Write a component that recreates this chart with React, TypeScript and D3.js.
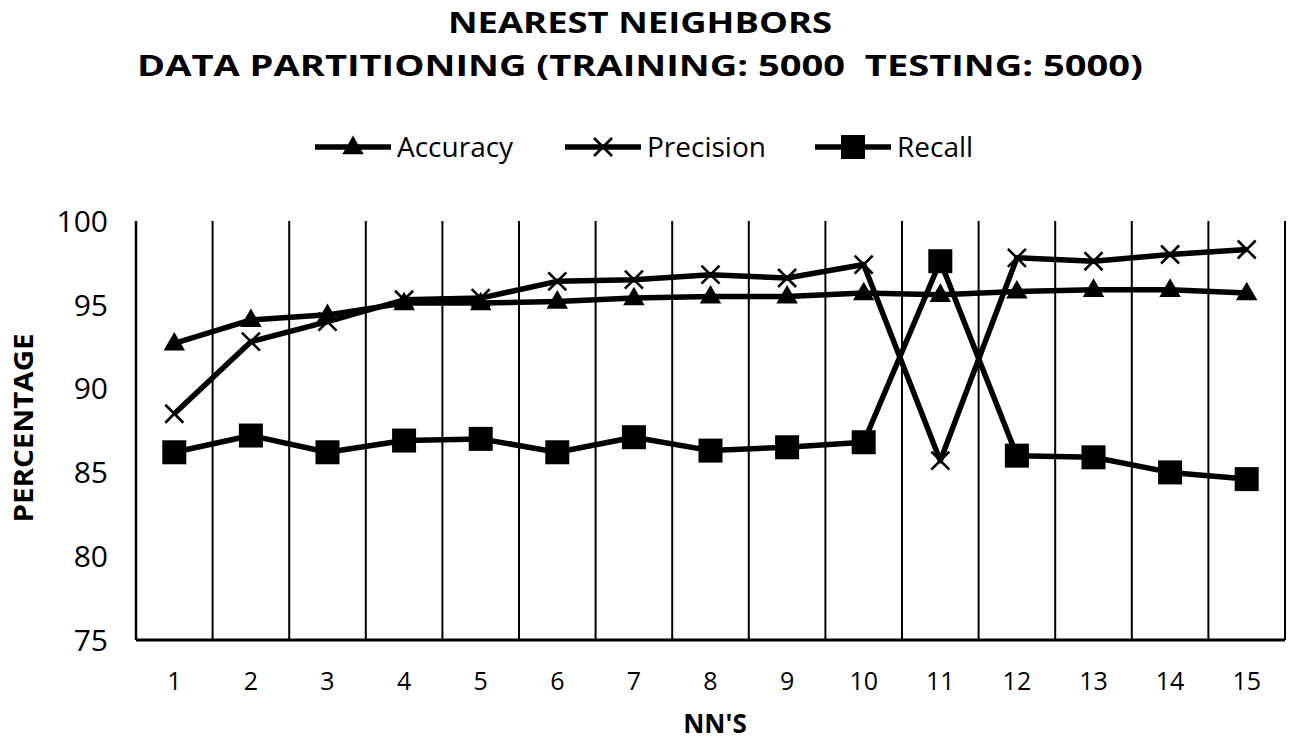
import React from 'react';
import * as d3 from 'd3';

const categories = ['1', '2', '3', '4', '5', '6', '7', '8', '9', '10', '11', '12', '13', '14', '15'];
const accuracy = [92.7, 94.1, 94.4, 95.1, 95.1, 95.2, 95.4, 95.5, 95.5, 95.7, 95.6, 95.8, 95.9, 95.9, 95.7];
const precision = [88.5, 92.8, 94.0, 95.3, 95.4, 96.4, 96.5, 96.8, 96.6, 97.4, 85.7, 97.8, 97.6, 98.0, 98.3];
const recall = [86.2, 87.2, 86.2, 86.9, 87.0, 86.2, 87.1, 86.3, 86.5, 86.8, 97.6, 86.0, 85.9, 85.0, 84.6];
const yTicks = [75, 80, 85, 90, 95, 100];
const seriesNames = ['Accuracy', 'Precision', 'Recall'];

const FONT = "'Open Sans', sans-serif";

// marker for each series
const Marker = ({ kind, x, y }) => {
  if (kind === 'Accuracy') {
    const p = d3.symbol(d3.symbolTriangle, 200)();
    return <path d={p} transform={`translate(${x},${y + 1})`} fill="#000" />;
  }
  if (kind === 'Recall') {
    return <rect x={x - 12} y={y - 12} width={24} height={24} fill="#000" />;
  }
  const s = 9;
  return (
    <g stroke="#000" strokeWidth={2.6}>
      <line x1={x - s} y1={y - s} x2={x + s} y2={y + s} />
      <line x1={x - s} y1={y + s} x2={x + s} y2={y - s} />
    </g>
  );
};

const App = () => {
  const width = 1299;
  const height = 750;
  const left = 136, right = 1285, top = 221, bottom = 640;

  const x = d3.scaleBand().domain(categories).range([left, right]).padding(0);
  const y = d3.scaleLinear().domain([75, 100]).range([bottom, top]);
  const cx = (c) => x(c) + x.bandwidth() / 2;

  const data = { Accuracy: accuracy, Precision: precision, Recall: recall };
  const line = d3.line().x(d => d[0]).y(d => d[1]);

  const legendX = [315, 565, 815];

  return (
    <svg width={width} height={height} style={{ position: 'absolute', left: 0, top: 0, background: '#fff' }}>
      {/* titles */}
      <text x={640} y={33} textAnchor="middle" fontFamily={FONT} fontWeight="bold" fontSize={29}
        textLength={384} lengthAdjust="spacingAndGlyphs">NEAREST NEIGHBORS</text>
      <text x={640} y={76} textAnchor="middle" fontFamily={FONT} fontWeight="bold" fontSize={29}
        textLength={1006} lengthAdjust="spacingAndGlyphs" style={{ whiteSpace: 'pre' }}>DATA PARTITIONING (TRAINING: 5000  TESTING: 5000)</text>

      {/* legend */}
      {seriesNames.map((s, i) => (
        <g key={s}>
          <line x1={legendX[i]} x2={legendX[i] + 76} y1={147} y2={147} stroke="#000" strokeWidth={5.5} />
          <Marker kind={s} x={legendX[i] + 38} y={147} />
          <text x={legendX[i] + 82} y={157} fontFamily={FONT} fontSize={28}>{s}</text>
        </g>
      ))}

      {/* vertical category lines */}
      {categories.map(c => (
        <line key={c} x1={x(c) + x.bandwidth()} x2={x(c) + x.bandwidth()} y1={top} y2={bottom}
          stroke="#000" strokeWidth={2} />
      ))}
      <line x1={left} x2={left} y1={top} y2={bottom} stroke="#000" strokeWidth={2.5} />
      <line x1={left} x2={right} y1={bottom} y2={bottom} stroke="#000" strokeWidth={3} />

      {/* y ticks */}
      {yTicks.map(t => (
        <text key={t} x={108} y={y(t)} dy="0.36em" textAnchor="end" fontFamily={FONT} fontSize={30}>{t}</text>
      ))}
      {/* x ticks */}
      {categories.map(c => (
        <text key={c} x={cx(c)} y={690} textAnchor="middle" fontFamily={FONT} fontSize={25}>{c}</text>
      ))}

      {/* axis titles */}
      <text x={715} y={733} textAnchor="middle" fontFamily={FONT} fontWeight="bold" fontSize={26}>NN'S</text>
      <text transform="translate(33,428) rotate(-90)" textAnchor="middle" fontFamily={FONT} fontWeight="bold"
        fontSize={26} textLength={189} lengthAdjust="spacingAndGlyphs">PERCENTAGE</text>

      {/* series */}
      {seriesNames.map(s => (
        <path key={s} d={line(categories.map((c, i) => [cx(c), y(data[s][i])]))}
          fill="none" stroke="#000" strokeWidth={5.5} strokeLinejoin="round" />
      ))}
      {seriesNames.map(s => categories.map((c, i) => (
        <Marker key={s + c} kind={s} x={cx(c)} y={y(data[s][i])} />
      )))}
    </svg>
  );
};

export default App;
